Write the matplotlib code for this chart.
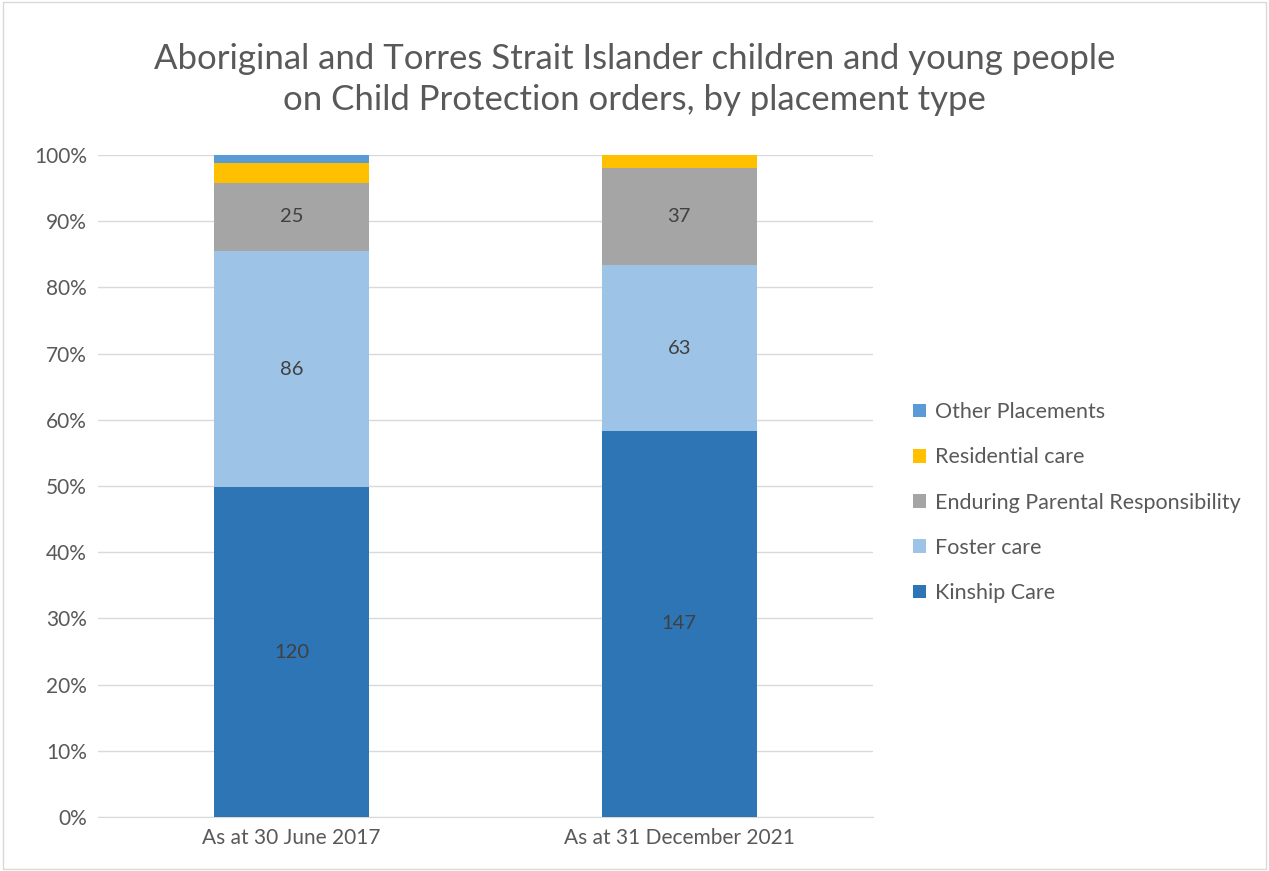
import matplotlib
matplotlib.use("Agg")
import matplotlib.pyplot as plt
import numpy as np

categories = ["As at 30 June 2017", "As at 31 December 2021"]
series_names = ["Kinship Care", "Foster care", "Enduring Parental Responsibility",
                "Residential care", "Other Placements"]
kinship = [120, 147]
foster = [86, 63]
epr = [25, 37]
residential = [7, 5]
other = [3, 0]
colors = ["#2E75B6", "#9DC3E6", "#A5A5A5", "#FFC000", "#5B9BD5"]
labelled = [True, True, True, False, False]

plt.rcParams['font.family'] = ['Lato', 'DejaVu Sans']

fig = plt.figure(figsize=(12.69, 8.71), dpi=100)
ax = fig.add_axes([0.0772, 0.062, 0.6108, 0.760])

data = np.array([kinship, foster, epr, residential, other], dtype=float)
totals = data.sum(axis=0)
pct = data / totals * 100
x = np.arange(len(categories))
bottom = np.zeros(len(categories))
handles = []
for i, name in enumerate(series_names):
    b = ax.bar(x, pct[i], 0.40, bottom=bottom, color=colors[i], label=name, zorder=3)
    handles.append(b)
    if labelled[i]:
        for xi, (v, p, bt) in enumerate(zip(data[i], pct[i], bottom)):
            if v > 0:
                ax.text(xi, bt + p / 2, f"{int(v)}", ha="center", va="center",
                        fontsize=14.5, color="#404040", zorder=4)
    bottom += pct[i]

ax.set_xlim(-0.5, 1.5)
ax.set_ylim(0, 100)
ax.set_yticks(np.arange(0, 101, 10))
ax.set_yticklabels([f"{v}%" for v in range(0, 101, 10)], fontsize=15, color="#595959")
ax.set_xticks(x)
ax.set_xticklabels(categories, fontsize=15, color="#595959")
ax.grid(axis="y", color="#D9D9D9", linewidth=1, zorder=0)
for s in ["top", "right", "left"]:
    ax.spines[s].set_visible(False)
ax.spines["bottom"].set_color("#D9D9D9")
ax.tick_params(axis="both", length=0, pad=8)

leg = fig.legend(handles[::-1], series_names[::-1], loc="center left",
                 bbox_to_anchor=(0.704, 0.423), frameon=False, fontsize=15.5,
                 labelcolor="#595959", handlelength=0.6, handleheight=0.6,
                 handletextpad=0.45, labelspacing=1.17)

fig.text(0.5, 0.909, "Aboriginal and Torres Strait Islander children and young people\non Child Protection orders, by placement type",
         ha="center", va="center", fontsize=25, color="#595959", linespacing=1.35)

fig.patches.append(plt.Rectangle((0.002, 0.002), 0.996, 0.996, transform=fig.transFigure,
                                 fill=False, edgecolor="#D9D9D9", linewidth=1))

fig.savefig("out.png", dpi=100)
